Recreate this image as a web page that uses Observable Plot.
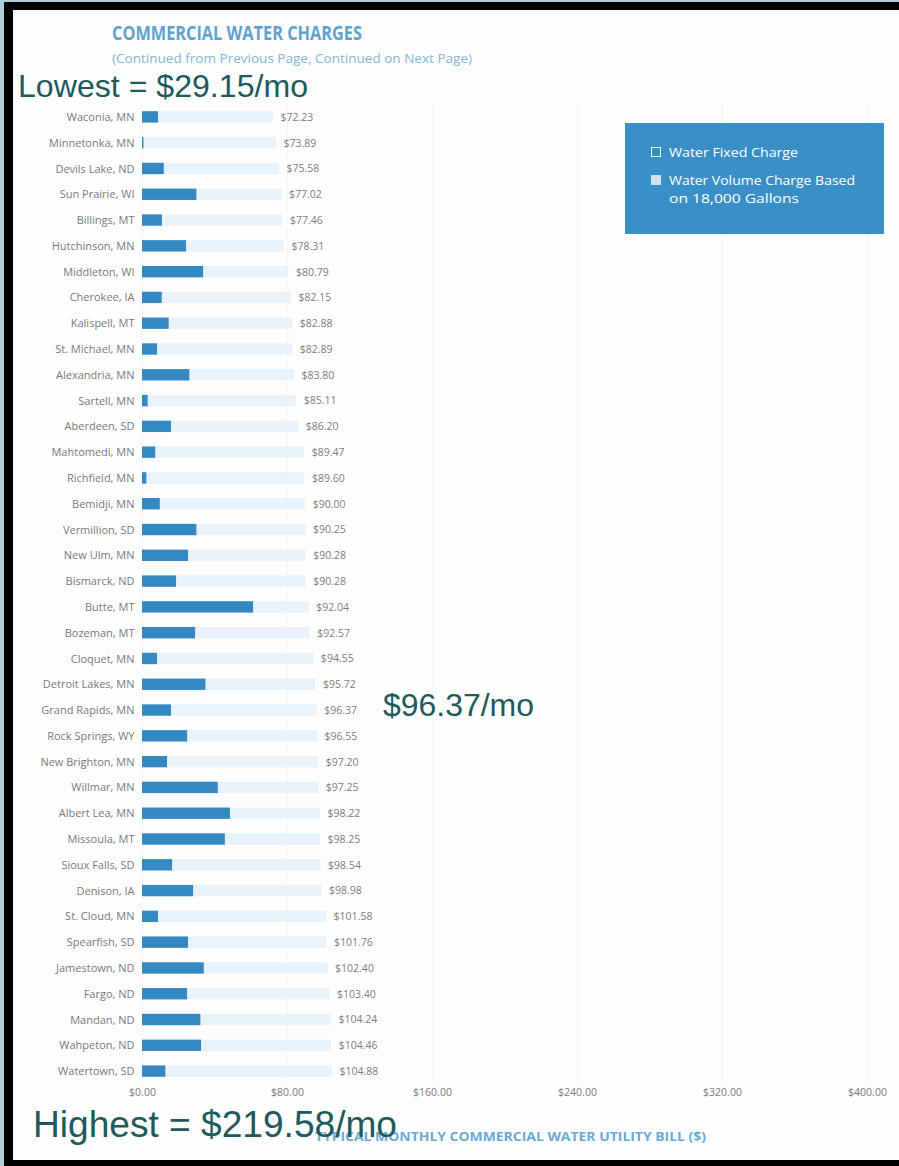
<!DOCTYPE html>
<html>
<head>
<meta charset="utf-8">
<script src="https://cdn.jsdelivr.net/npm/d3@7"></script>
<script src="https://cdn.jsdelivr.net/npm/@observablehq/plot@0.6"></script>
<style>
  html, body { margin: 0; padding: 0; background: #fff; }
  #page { position: relative; width: 899px; height: 1166px; overflow: hidden; background: #a9d1da; font-family: "Open Sans", sans-serif; }
  #frame { position: absolute; left: 4px; top: 2px; right: 0; bottom: 0; background: #000; }
  #paper { position: absolute; left: 13px; top: 10px; right: 0; bottom: 6px; background: #fdfdfd; }
  #chart { position: absolute; left: 0; top: 0; }
  .abs { position: absolute; white-space: nowrap; transform-origin: 0 50%; }
  .title { left: 112px; top: 23px; font-size: 20px; line-height: 20px; font-weight: 700; color: #62a2cd; }
  .subtitle { left: 112px; top: 52px; font-size: 13px; line-height: 13px; color: #82b6d9; }
  .note { font-family: "Liberation Sans", Arial, sans-serif; color: #1d5a5c; }
  .axistitle { left: 315px; top: 1131px; font-size: 12px; line-height: 12px; font-weight: 700; color: #6aaad6; }
  #legend { position: absolute; left: 625px; top: 123px; width: 259px; height: 111px; background: #3a90c6; }
  .sw { position: absolute; width: 10px; height: 10px; box-sizing: border-box; }
  .lt { position: absolute; color: #fff; font-size: 13px; line-height: 18px; white-space: nowrap; transform-origin: 0 50%; }
</style>
</head>
<body>
<div id="page">
  <div id="frame"></div>
  <div id="paper"></div>
  <div id="chart"></div>
  <div class="abs title" id="t1">COMMERCIAL WATER CHARGES</div>
  <div class="abs subtitle" id="t2">(Continued from Previous Page, Continued on Next Page)</div>
  <div id="legend">
    <div class="sw" style="left:26px;top:24px;border:1px solid #e6f1f9;"></div>
    <div class="lt" id="l1" style="left:44px;top:20px;">Water Fixed Charge</div>
    <div class="sw" style="left:26px;top:52px;background:#cfe3f3;"></div>
    <div class="lt" id="l2" style="left:44px;top:48px;">Water Volume Charge Based</div>
    <div class="lt" id="l3" style="left:44px;top:66px;">on 18,000 Gallons</div>
  </div>
  <div class="abs axistitle" id="t3">TYPICAL MONTHLY COMMERCIAL WATER UTILITY BILL ($)</div>
  <div class="abs note" id="n1" style="left:18px;top:70px;font-size:32px;line-height:32px;">Lowest = $29.15/mo</div>
  <div class="abs note" id="n2" style="left:383px;top:689px;font-size:32px;line-height:32px;">$96.37/mo</div>
  <div class="abs note" id="n3" style="left:33px;top:1106px;font-size:37px;line-height:37px;">Highest = $219.58/mo</div>
</div>
<script>
const cities = ["Waconia, MN","Minnetonka, MN","Devils Lake, ND","Sun Prairie, WI","Billings, MT","Hutchinson, MN","Middleton, WI","Cherokee, IA","Kalispell, MT","St. Michael, MN","Alexandria, MN","Sartell, MN","Aberdeen, SD","Mahtomedi, MN","Richfield, MN","Bemidji, MN","Vermillion, SD","New Ulm, MN","Bismarck, ND","Butte, MT","Bozeman, MT","Cloquet, MN","Detroit Lakes, MN","Grand Rapids, MN","Rock Springs, WY","New Brighton, MN","Willmar, MN","Albert Lea, MN","Missoula, MT","Sioux Falls, SD","Denison, IA","St. Cloud, MN","Spearfish, SD","Jamestown, ND","Fargo, ND","Mandan, ND","Wahpeton, ND","Watertown, SD"];
const fixedCharge = [8.8,0.8,12.0,30.0,11.0,24.3,33.7,10.9,14.7,8.3,26.1,3.1,16.0,7.3,2.4,9.8,30.0,25.4,18.8,61.3,29.3,8.3,35.0,16.0,24.9,13.8,41.8,48.5,45.7,16.6,28.2,8.8,25.4,34.1,24.9,32.2,32.6,12.9];
const totalBill = [72.23,73.89,75.58,77.02,77.46,78.31,80.79,82.15,82.88,82.89,83.80,85.11,86.20,89.47,89.60,90.00,90.25,90.28,90.28,92.04,92.57,94.55,95.72,96.37,96.55,97.20,97.25,98.22,98.25,98.54,98.98,101.58,101.76,102.40,103.40,104.24,104.46,104.88];
const xTicks = [0,80,160,240,320,400];
const xTickLabels = ["$0.00","$80.00","$160.00","$240.00","$320.00","$400.00"];

const rows = cities.map((c, i) => ({city: c, fixed: fixedCharge[i], total: totalBill[i]}));

const chart = Plot.plot({
  width: 899,
  height: 1166,
  marginLeft: 142,
  marginRight: 32,
  marginTop: 104,
  marginBottom: 82,
  style: {background: "transparent", fontFamily: "Open Sans, sans-serif", fontSize: "11px", color: "#7a7a7a"},
  x: {domain: [0, 400], label: null},
  y: {domain: cities, paddingInner: 0.56, paddingOuter: 0.28, round: false, label: null},
  marks: [
    Plot.gridX(xTicks, {stroke: "#000", strokeOpacity: 0.035}),
    Plot.barX(rows, {x: "total", y: "city", fill: "#e8f2fa"}),
    Plot.barX(rows, {x: "fixed", y: "city", fill: "#3489c3"}),
    Plot.text(rows, {x: "total", y: "city", text: d => "$" + d.total.toFixed(2), textAnchor: "start", dx: 7, fill: "#7d7d7d", fontSize: 10.5}),
    Plot.axisY({tickSize: 0, tickPadding: 8, fontSize: 11, label: null}),
    Plot.axisX({ticks: xTicks, tickFormat: d => xTickLabels[xTicks.indexOf(d)], tickSize: 0, tickPadding: 4, fontSize: 10.5, label: null})
  ]
});
document.getElementById("chart").appendChild(chart);

function fit(id, w) {
  const el = document.getElementById(id);
  const cw = el.getBoundingClientRect().width;
  if (cw > 0) el.style.transform = `scaleX(${w / cw})`;
}
fit("t1", 250);
fit("t2", 360);
fit("t3", 391);
fit("l1", 129);
fit("l2", 186);
fit("l3", 130);
fit("n1", 290);
fit("n2", 151);
fit("n3", 364);
</script>
</body>
</html>
